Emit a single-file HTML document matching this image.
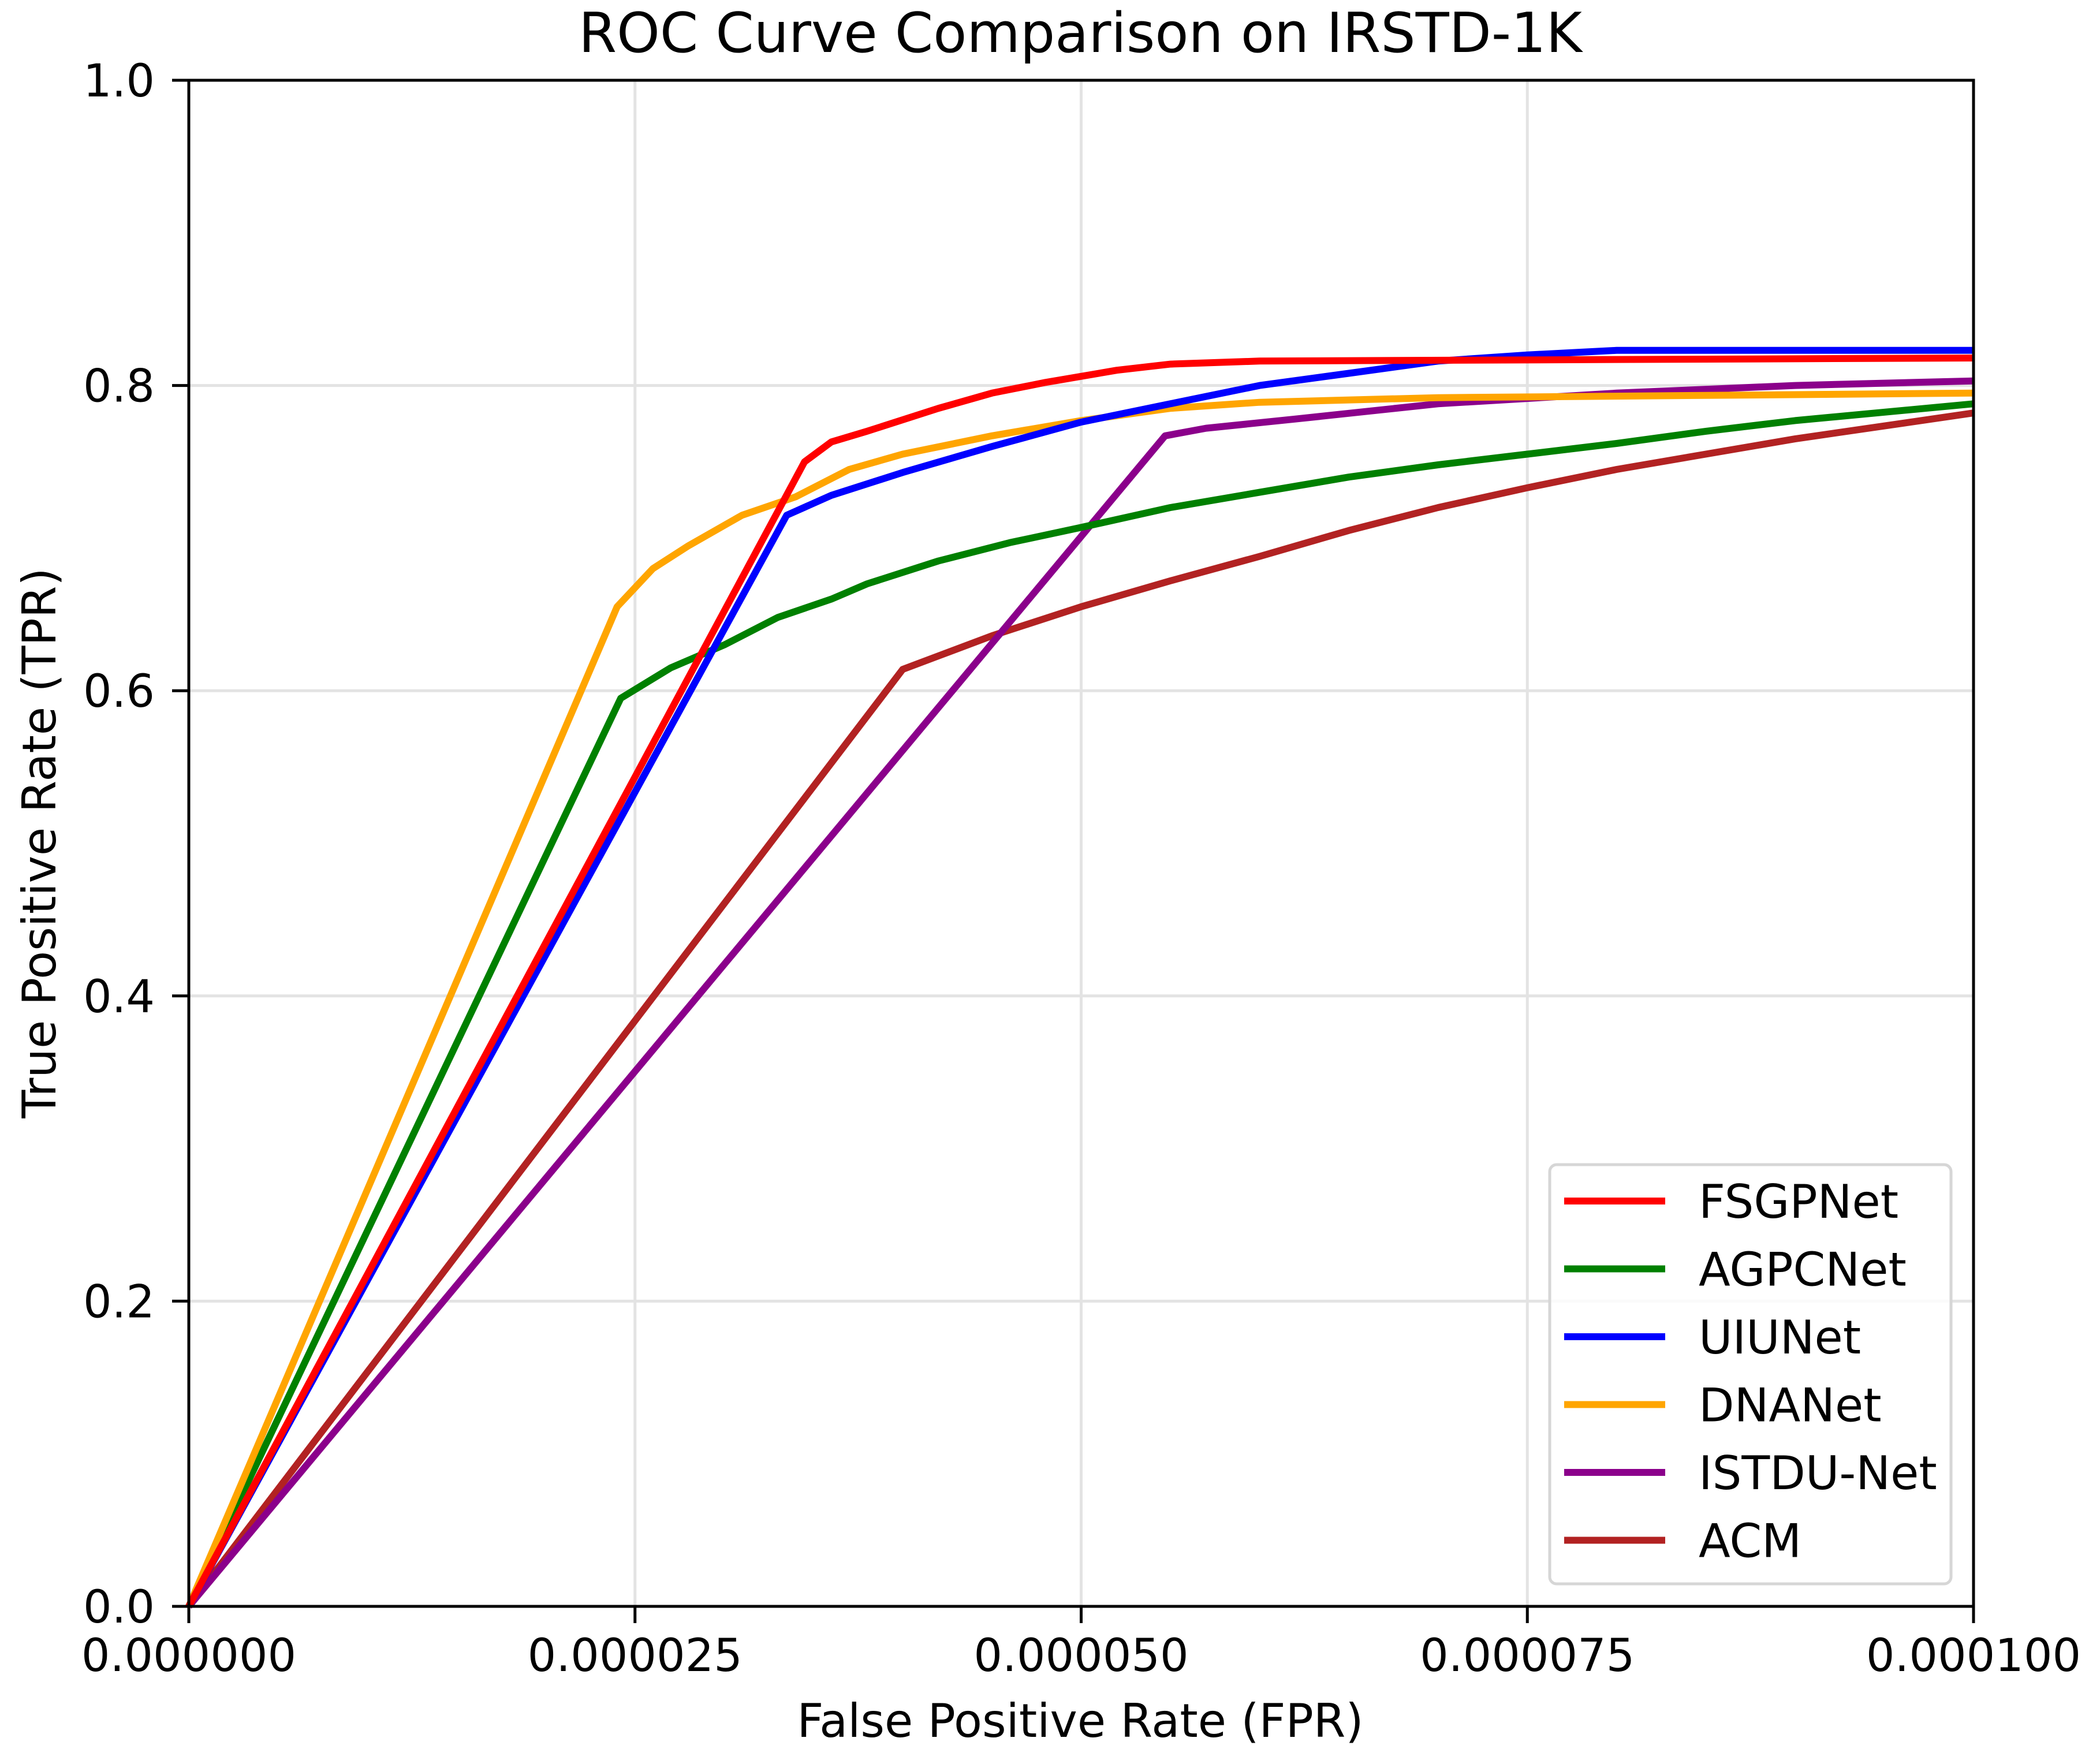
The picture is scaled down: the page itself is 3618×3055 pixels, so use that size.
<!DOCTYPE html>
<html><head><meta charset="utf-8"><style>
html,body{margin:0;padding:0;background:#fff;}
svg{display:block;font-family:"DejaVu Sans","Liberation Sans",sans-serif;}
</style></head><body>
<svg id="chart" width="3618" height="3055" viewBox="0 0 3618 3055" xmlns="http://www.w3.org/2000/svg">
<rect width="3618" height="3055" fill="#fff"/>
<text x="1871" y="90" font-size="95" text-anchor="middle" fill="#000">ROC Curve Comparison on IRSTD-1K</text>
<g id="grid"></g>
<g id="series"></g>
<g id="axes"></g>
<text x="1871" y="3008" font-size="80" text-anchor="middle" fill="#000">False Positive Rate (FPR)</text>
<text transform="translate(96,1460) rotate(-90)" font-size="80" text-anchor="middle" fill="#000">True Positive Rate (TPR)</text>
<g id="legend"></g>
</svg>
<script>
// x in units of 1e-6 FPR
const xTicks = [0, 25, 50, 75, 100];
const xTickLabels = ["0.000000", "0.000025", "0.000050", "0.000075", "0.000100"];
const yTicks = [0, 0.2, 0.4, 0.6, 0.8, 1.0];
const yTickLabels = ["0.0", "0.2", "0.4", "0.6", "0.8", "1.0"];
const seriesNames = ["FSGPNet", "AGPCNet", "UIUNet", "DNANet", "ISTDU-Net", "ACM"];
const seriesColors = ["#ff0000", "#008000", "#0000ff", "#ffa500", "#8b008b", "#b22222"];
const fsgpX = [0, 34.5, 36, 38, 42, 45, 48, 52, 55, 60, 100];
const fsgpY = [0, 0.75, 0.763, 0.77, 0.785, 0.795, 0.802, 0.81, 0.814, 0.816, 0.818];
const agpcX = [0, 24.2, 27, 30, 33, 36, 38, 42, 46, 50, 55, 60, 65, 70, 75, 80, 85, 90, 100];
const agpcY = [0, 0.595, 0.615, 0.63, 0.648, 0.66, 0.67, 0.685, 0.697, 0.707, 0.72, 0.73, 0.74, 0.748, 0.755, 0.762, 0.77, 0.777, 0.788];
const uiuX = [0, 33.5, 36, 40, 45, 50, 55, 60, 65, 70, 75, 80, 100];
const uiuY = [0, 0.715, 0.728, 0.743, 0.76, 0.776, 0.788, 0.8, 0.808, 0.816, 0.82, 0.823, 0.823];
const dnaX = [0, 24, 26, 28, 31, 34, 37, 40, 45, 50, 55, 60, 70, 100];
const dnaY = [0, 0.655, 0.68, 0.695, 0.715, 0.727, 0.745, 0.755, 0.767, 0.777, 0.785, 0.789, 0.792, 0.795];
const istduX = [0, 54.7, 57, 62, 70, 80, 90, 100];
const istduY = [0, 0.767, 0.772, 0.778, 0.788, 0.795, 0.8, 0.803];
const acmX = [0, 40, 45, 50, 55, 60, 65, 70, 75, 80, 85, 90, 100];
const acmY = [0, 0.614, 0.636, 0.655, 0.672, 0.688, 0.705, 0.72, 0.733, 0.745, 0.755, 0.765, 0.782];

const L = 327, R = 3418, T = 139, B = 2782;
const sx = v => L + (v / 100) * (R - L);
const sy = v => B - v * (B - T);
const NS = "http://www.w3.org/2000/svg";
function mk(tag, attrs, parent) {
  const e = document.createElementNS(NS, tag);
  for (const k in attrs) e.setAttribute(k, attrs[k]);
  parent.appendChild(e);
  return e;
}
const grid = document.getElementById("grid");
const axes = document.getElementById("axes");
xTicks.forEach((t, i) => {
  const g = mk("line", {x1: sx(t), x2: sx(t), y1: T, y2: B, stroke: "#e3e3e3", "stroke-width": 5}, grid);
  
  
  const tk = mk("line", {x1: sx(t), x2: sx(t), y1: B, y2: B + 29, stroke: "#000", "stroke-width": 5}, axes);
  
  
  const tx = mk("text", {x: sx(t), y: 2894, "font-size": 78, "text-anchor": "middle", fill: "#000"}, axes);
  tx.textContent = xTickLabels[i];
  
  
});
yTicks.forEach((t, i) => {
  const g = mk("line", {x1: L, x2: R, y1: sy(t), y2: sy(t), stroke: "#e3e3e3", "stroke-width": 5}, grid);
  
  
  const tk = mk("line", {x1: L - 29, x2: L, y1: sy(t), y2: sy(t), stroke: "#000", "stroke-width": 5}, axes);
  
  
  const tx = mk("text", {x: 268, y: sy(t) + 28, "font-size": 78, "text-anchor": "end", fill: "#000"}, axes);
  tx.textContent = yTickLabels[i];
  
  
});
const frame = mk("rect", {x: L, y: T, width: R - L, height: B - T, fill: "none", stroke: "#000", "stroke-width": 5}, axes);



const allX = [fsgpX, agpcX, uiuX, dnaX, istduX, acmX];
const allY = [fsgpY, agpcY, uiuY, dnaY, istduY, acmY];
const order = [5, 4, 1, 3, 2, 0];
const sg = document.getElementById("series");
order.forEach(i => {
  const pts = allX[i].map((x, j) => sx(x).toFixed(1) + "," + sy(allY[i][j]).toFixed(1)).join(" ");
  const p = mk("polyline", {points: pts, fill: "none", stroke: seriesColors[i], "stroke-width": 12, "stroke-linejoin": "round"}, sg);
  
  
});

const lg = document.getElementById("legend");
const box = mk("rect", {x: 2684, y: 2017, width: 695, height: 726, rx: 12, fill: "#fff", "fill-opacity": 0.8, stroke: "#d6d6d6", "stroke-width": 5}, lg);


seriesNames.forEach((n, i) => {
  const y = 2080 + i * 117.5;
  const ln = mk("line", {x1: 2709, x2: 2884, y1: y, y2: y, stroke: seriesColors[i], "stroke-width": 12}, lg);
  
  
  const t = mk("text", {x: 2942, y: y + 29, "font-size": 80, fill: "#000"}, lg);
  t.textContent = n;
  
  
});
</script>
</body></html>
